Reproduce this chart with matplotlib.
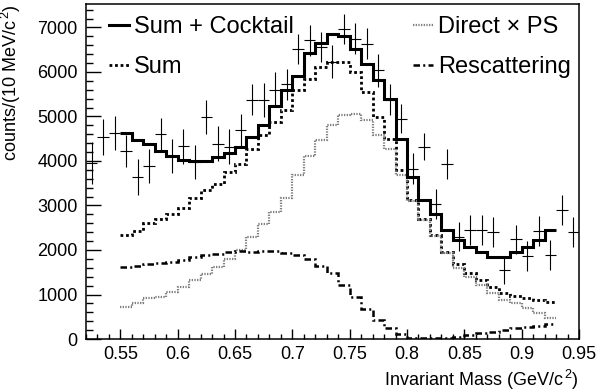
import numpy as np
import matplotlib
matplotlib.use("Agg")
import matplotlib.pyplot as plt
from matplotlib.lines import Line2D
from matplotlib.ticker import MultipleLocator

plt.rcParams["font.family"] = ["Liberation Sans", "DejaVu Sans"]
plt.rcParams["mathtext.default"] = "regular"

# histogram bins: 0.55 .. 0.93 GeV/c^2, 10 MeV wide
bin_lo = 0.55
bin_w = 0.01

sum_cocktail = [4620, 4470, 4380, 4230, 4110, 4020, 4000, 4010, 4080, 4170,
                4320, 4530, 4800, 5230, 5590, 5900, 6420, 6650, 6860, 6800,
                6520, 6190, 5810, 5400, 4500, 3640, 3120, 2820, 2450, 2220,
                2070, 1960, 1850, 1850, 1960, 2070, 2220, 2440]
sum_model = [2330, 2430, 2600, 2690, 2820, 2950, 3160, 3340, 3490, 3760,
             3940, 4280, 4580, 4880, 5140, 5590, 5850, 6110, 6220, 6220,
             6000, 5550, 4990, 4500, 3790, 3120, 2690, 2330, 1960, 1680,
             1475, 1320, 1160, 1040, 965, 913, 875, 838]
direct_ps = [726, 801, 913, 950, 1062, 1174, 1324, 1460, 1623, 1796,
             1998, 2296, 2575, 2857, 3158, 3690, 4120, 4467, 4800, 5030,
             5060, 4920, 4580, 4280, 3680, 3090, 2680, 2320, 1940, 1600,
             1399, 1212, 1026, 875, 801, 689, 577, 478]
rescattering = [1623, 1638, 1676, 1699, 1736, 1773, 1847, 1885, 1900, 1945,
                1975, 1945, 1975, 1975, 1923, 1885, 1788, 1645, 1475, 1212,
                950, 673, 426, 240, 105, 30, 15, 15, 25, 50,
                90, 127, 164, 202, 240, 276, 299, 330]

# measured points (bin centres 0.525 .. 0.945)
data_x = [0.525, 0.535, 0.545, 0.555, 0.565, 0.575, 0.585, 0.595, 0.605, 0.615,
          0.625, 0.635, 0.645, 0.655, 0.665, 0.675, 0.685, 0.695, 0.705, 0.715,
          0.725, 0.735, 0.745, 0.755, 0.765, 0.775, 0.785, 0.795, 0.805, 0.815,
          0.825, 0.835, 0.845, 0.855, 0.865, 0.875, 0.885, 0.895, 0.905, 0.915,
          0.925, 0.935, 0.945]
data_y = [3950, 4540, 4630, 4230, 3640, 3890, 4600, 4110, 4330, 3980,
          4990, 4390, 4320, 4690, 5380, 5370, 5600, 5720, 6520, 6710,
          6560, 6230, 6970, 6750, 6640, 6040, 5380, 4950, 3830, 4320,
          3030, 3940, 2300, 2450, 2450, 2410, 1550, 2240, 1860, 2420,
          1880, 2900, 2410]
data_err = [470, 410, 390, 355, 400, 390, 375, 385, 390, 375,
            375, 390, 390, 375, 355, 375, 390, 340, 340, 355,
            340, 375, 340, 340, 340, 375, 340, 320, 350, 300,
            340, 340, 320, 340, 340, 340, 320, 320, 340, 340,
            340, 340, 340]

edges = bin_lo + bin_w * np.arange(len(sum_cocktail) + 1)

fig = plt.figure(figsize=(6.0, 3.92), dpi=100)
ax = fig.add_axes([0.1433, 0.1352, 0.8217, 0.8537])

ax.errorbar(data_x, data_y, yerr=data_err, xerr=bin_w / 2, fmt="none",
            ecolor="black", elinewidth=0.8, capsize=0, zorder=2)

styles = {
    "sum_cocktail": dict(color="black", lw=2.2, ls="-"),
    "sum": dict(color="black", lw=2.0, ls=(0, (1.0, 1.0))),
    "direct": dict(color="#7f7f7f", lw=1.6, ls=(0, (0.6, 0.6))),
    "resc": dict(color="black", lw=1.8, ls=(0, (2.6, 1.3, 0.8, 1.3))),
}
ax.stairs(sum_cocktail, edges, baseline=None, zorder=4, **styles["sum_cocktail"])
ax.stairs(sum_model, edges, baseline=None, zorder=3, **styles["sum"])
ax.stairs(direct_ps, edges, baseline=None, zorder=3, **styles["direct"])
ax.stairs(rescattering, edges, baseline=None, zorder=3, **styles["resc"])

ax.set_xlim(0.52, 0.95)
ax.set_ylim(0, 7520)
ax.xaxis.set_minor_locator(MultipleLocator(0.01))
ax.yaxis.set_major_locator(MultipleLocator(1000))
ax.yaxis.set_minor_locator(MultipleLocator(200))
ax.set_xticks([0.55, 0.6, 0.65, 0.7, 0.75, 0.8, 0.85, 0.9, 0.95])
ax.set_xticklabels(["0.55", "0.6", "0.65", "0.7", "0.75", "0.8", "0.85", "0.9", "0.95"])
ax.tick_params(axis="both", which="both", direction="in", labelsize=13, width=1.0)
ax.tick_params(axis="y", which="major", length=10.5, pad=6)
ax.tick_params(axis="y", which="minor", length=5.3)
ax.tick_params(axis="x", which="major", length=7.2, pad=5)
ax.tick_params(axis="x", which="minor", length=3.6)
for s in ax.spines.values():
    s.set_linewidth(1.1)

ax.set_xlabel("Invariant Mass (GeV/c$^{\\,2}$)", fontsize=13, loc="right")
ax.set_ylabel("counts/(10 MeV/c$^{\\,2}$)", fontsize=13, loc="top")
ax.xaxis.set_label_coords(1.0, -0.085)
ax.yaxis.set_label_coords(-0.128, 1.0)

def handle(key):
    return Line2D([], [], **styles[key])

leg_kw = dict(frameon=False, fontsize=17, handlelength=0.85, handletextpad=0.2,
              labelspacing=0.75, borderpad=0, borderaxespad=0, loc="upper left")
leg1 = ax.legend([handle("sum_cocktail"), handle("sum")], ["Sum + Cocktail", "Sum"],
                 bbox_to_anchor=(0.047, 0.965), **leg_kw)
ax.add_artist(leg1)
ax.legend([handle("direct"), handle("resc")], ["Direct \u00d7 PS", "Rescattering"],
          bbox_to_anchor=(0.663, 0.965), **leg_kw)

fig.savefig("out.png", dpi=100)
